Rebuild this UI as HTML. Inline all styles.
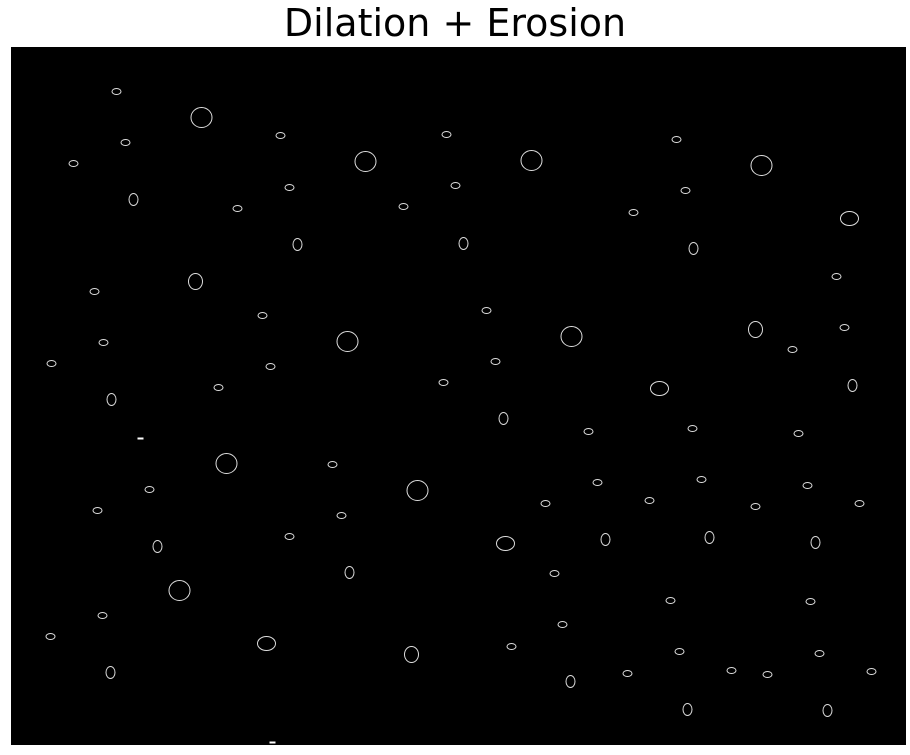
<!DOCTYPE html>
<html>
<head>
<meta charset="utf-8">
<style>
html,body{margin:0;padding:0;background:#fff;}
body{width:910px;height:755px;position:relative;overflow:hidden;font-family:"DejaVu Sans","Liberation Sans",sans-serif;}
#title{position:absolute;left:0;top:1px;width:910px;text-align:center;font-size:38px;color:#000;}
#plot{position:absolute;left:11px;top:47px;}
</style>
</head>
<body>
<div id="title">Dilation + Erosion</div>
<svg id="plot" width="895" height="698">
<rect x="0" y="0" width="895" height="698" fill="#000"/>
<g id="marks"></g>
</svg>
<script>
// image-coordinate data (pixel column / row in source image)
const blobX = [116,201,280,446,125,73,365,531,676,761,133,289,455,237,403,633,685,849,297,463,693,195,836,94,262,486,347,571,755,844,103,51,270,495,792,218,443,659,852,111,503,588,692,798,226,332,417,149,97,341,545,597,649,701,755,807,859,157,289,505,605,709,815,349,554,179,102,670,810,50,562,266,411,511,679,819,110,570,627,731,767,871,687,827];
const blobY = [91,117,135,134,142,163,161,160,139,165,199,187,185,208,206,212,190,218,244,243,248,281,276,291,315,310,341,336,329,327,342,363,366,361,349,387,382,388,385,399,418,431,428,433,463,464,490,489,510,515,503,482,500,479,506,485,503,546,536,543,539,537,542,572,573,590,615,600,601,636,624,643,654,646,651,653,672,681,673,670,674,671,709,710];
const blobKind = ['h','b','h','h','h','h','b','b','h','b','v','h','h','h','h','h','h','m','v','v','v','w','h','h','h','h','b','b','w','h','h','h','h','h','h','h','h','m','v','v','v','h','h','h','b','h','b','h','h','h','h','h','h','h','h','h','h','v','h','m','v','v','v','v','h','b','h','h','h','h','h','m','w','h','h','h','v','v','h','h','h','h','v','v'];
const dashX = [140,272];
const dashY = [438,742];

const sx = v => v - 10.5;
const sy = v => v - 46.5;
const radii = {h:[4.5,3],v:[4.5,6],b:[10.5,10],m:[9,7],w:[7,8]};
const g = document.getElementById('marks');
const NS = 'http://www.w3.org/2000/svg';
for (let i = 0; i < blobX.length; i++) {
  const e = document.createElementNS(NS,'ellipse');
  const r = radii[blobKind[i]];
  e.setAttribute('cx', sx(blobX[i]));
  e.setAttribute('cy', sy(blobY[i]));
  e.setAttribute('rx', r[0]);
  e.setAttribute('ry', r[1]);
  e.setAttribute('fill','none');
  e.setAttribute('stroke','#ddd');
  e.setAttribute('stroke-width','1');
  
  
  g.appendChild(e);
}
for (let i = 0; i < dashX.length; i++) {
  const r = document.createElementNS(NS,'rect');
  r.setAttribute('x', sx(dashX[i]) - 3);
  r.setAttribute('y', sy(dashY[i]) - 1);
  r.setAttribute('width', 6);
  r.setAttribute('height', 2);
  r.setAttribute('fill','#fff');
  
  
  g.appendChild(r);
}
</script>
</body>
</html>
